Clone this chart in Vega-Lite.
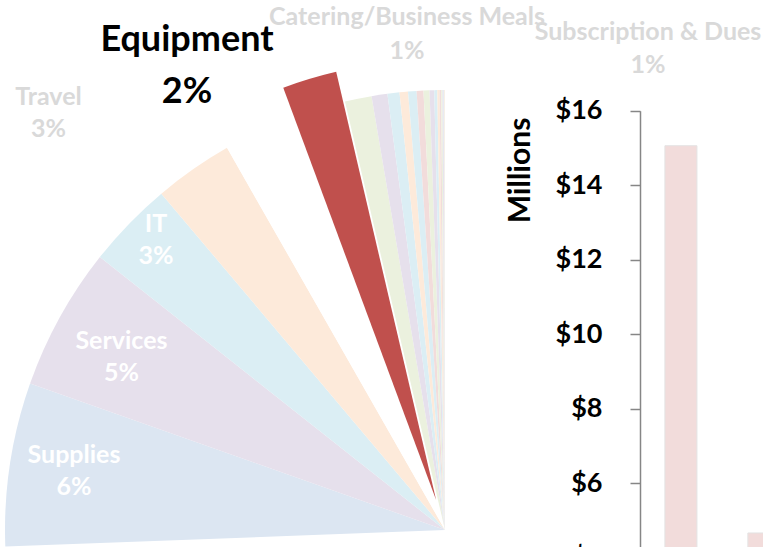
{
  "$schema": "https://vega.github.io/schema/vega-lite/v6.json",
  "width": 763,
  "height": 547,
  "padding": 0,
  "autosize": {"type": "none"},
  "background": "white",
  "config": {"view": {"stroke": null}},
  "datasets": {
    "pie": [
      {"rank": 1, "cat": "Largest category", "pct": 74.4, "label": ""},
      {"rank": 2, "cat": "Supplies", "pct": 6.0, "label": "Supplies\n6%"},
      {"rank": 3, "cat": "Services", "pct": 5.25, "label": "Services\n5%"},
      {"rank": 4, "cat": "IT", "pct": 3.2, "label": "IT\n3%"},
      {"rank": 5, "cat": "Travel", "pct": 2.9, "label": "Travel\n3%"},
      {"rank": 6, "cat": "Unlabeled", "pct": 2.6, "label": ""},
      {"rank": 7, "cat": "Equipment", "pct": 2.0, "label": "Equipment\n2%"},
      {"rank": 8, "cat": "Catering/Business Meals", "pct": 0.98, "label": "Catering/Business Meals\n1%"},
      {"rank": 9, "cat": "Subscription & Dues", "pct": 0.58, "label": "Subscription & Dues\n1%"},
      {"rank": 10, "cat": "Small 1", "pct": 0.44, "label": ""},
      {"rank": 11, "cat": "Small 2", "pct": 0.31, "label": ""},
      {"rank": 12, "cat": "Small 3", "pct": 0.31, "label": ""},
      {"rank": 13, "cat": "Small 4", "pct": 0.25, "label": ""},
      {"rank": 14, "cat": "Small 5", "pct": 0.22, "label": ""},
      {"rank": 15, "cat": "Small 6", "pct": 0.17, "label": ""},
      {"rank": 16, "cat": "Small 7", "pct": 0.11, "label": ""},
      {"rank": 17, "cat": "Small 8", "pct": 0.08, "label": ""},
      {"rank": 18, "cat": "Small 9", "pct": 0.06, "label": ""},
      {"rank": 19, "cat": "Small 10", "pct": 0.05, "label": ""},
      {"rank": 20, "cat": "Small 11", "pct": 0.04, "label": ""},
      {"rank": 21, "cat": "Small 12", "pct": 0.03, "label": ""},
      {"rank": 22, "cat": "Small 13", "pct": 0.02, "label": ""}
    ],
    "bars": [
      {"item": "Item 1", "millions": 15.06},
      {"item": "Item 2", "millions": 4.67}
    ]
  },
  "layer": [
    {
      "data": {"name": "pie"},
      "mark": {"type": "arc", "x": 445, "y": 530, "radius": 440},
      "encoding": {
        "theta": {"field": "pct", "type": "quantitative", "stack": true, "scale": {"domain": [0, 100]}},
        "order": {"field": "rank", "type": "quantitative"},
        "color": {
          "field": "cat", "type": "nominal", "legend": null,
          "scale": {
            "domain": ["Largest category", "Supplies", "Services", "IT", "Travel", "Unlabeled", "Equipment", "Catering/Business Meals", "Subscription & Dues", "Small 1", "Small 2", "Small 3", "Small 4", "Small 5", "Small 6", "Small 7", "Small 8", "Small 9", "Small 10", "Small 11", "Small 12", "Small 13"],
            "range": ["#FFFFFF", "#DCE6F2", "#E6E0EC", "#DBEEF4", "#FDEADA", "#FFFFFF", "#C0504D", "#EBF1DE", "#E6E0EC", "#DBEEF4", "#FDEADA", "#DBEEF4", "#F2DCDB", "#EBF1DE", "#E6E0EC", "#DBEEF4", "#FDEADA", "#F2DCDB", "#EBF1DE", "#E6E0EC", "#DBEEF4", "#FDEADA"]
          }
        },
        "opacity": {"condition": {"test": "datum.cat === 'Equipment' || datum.cat === 'Largest category'", "value": 0}, "value": 1}
      }
    },
    {
      "data": {"name": "pie"},
      "mark": {"type": "arc", "x": 436.2, "y": 500.3, "radius": 440},
      "encoding": {
        "theta": {"field": "pct", "type": "quantitative", "stack": true},
        "order": {"field": "rank", "type": "quantitative"},
        "color": {"field": "cat", "type": "nominal", "legend": null},
        "opacity": {"condition": {"test": "datum.cat === 'Equipment'", "value": 1}, "value": 0}
      }
    },
    {
      "data": {"name": "pie"},
      "mark": {"type": "text", "x": 445, "y": 530, "radius": 378.5, "thetaOffset": 0.0487, "font": "Lato", "fontWeight": "bold", "fontSize": 25, "color": "#FFFFFF", "lineBreak": "\n", "lineHeight": 32, "align": "center", "baseline": "middle"},
      "encoding": {
        "theta": {"field": "pct", "type": "quantitative", "stack": true},
        "order": {"field": "rank", "type": "quantitative"},
        "text": {"condition": {"test": "datum.cat === 'Supplies'", "field": "label"}, "value": ""}
      }
    },
    {
      "data": {"name": "pie"},
      "mark": {"type": "text", "x": 445, "y": 530, "radius": 374.7, "thetaOffset": 0.0244, "font": "Lato", "fontWeight": "bold", "fontSize": 25, "color": "#FFFFFF", "lineBreak": "\n", "lineHeight": 32, "align": "center", "baseline": "middle"},
      "encoding": {
        "theta": {"field": "pct", "type": "quantitative", "stack": true},
        "order": {"field": "rank", "type": "quantitative"},
        "text": {"condition": {"test": "datum.cat === 'Services'", "field": "label"}, "value": ""}
      }
    },
    {
      "data": {"name": "pie"},
      "mark": {"type": "text", "x": 445, "y": 530, "radius": 420.9, "thetaOffset": 0.0443, "font": "Lato", "fontWeight": "bold", "fontSize": 25, "color": "#FFFFFF", "lineBreak": "\n", "lineHeight": 32, "align": "center", "baseline": "middle"},
      "encoding": {
        "theta": {"field": "pct", "type": "quantitative", "stack": true},
        "order": {"field": "rank", "type": "quantitative"},
        "text": {"condition": {"test": "datum.cat === 'IT'", "field": "label"}, "value": ""}
      }
    },
    {
      "data": {"name": "pie"},
      "mark": {"type": "text", "x": 445, "y": 530, "radius": 587.1, "thetaOffset": -0.1319, "font": "Lato", "fontWeight": "bold", "fontSize": 25, "color": "#D9D9D9", "lineBreak": "\n", "lineHeight": 32, "align": "center", "baseline": "middle"},
      "encoding": {
        "theta": {"field": "pct", "type": "quantitative", "stack": true},
        "order": {"field": "rank", "type": "quantitative"},
        "text": {"condition": {"test": "datum.cat === 'Travel'", "field": "label"}, "value": ""}
      }
    },
    {
      "data": {"name": "pie"},
      "mark": {"type": "text", "x": 445, "y": 530, "radius": 553.8, "thetaOffset": -0.1925, "font": "Lato", "fontWeight": "bold", "fontSize": 36, "color": "#000000", "lineBreak": "\n", "lineHeight": 52, "align": "center", "baseline": "middle"},
      "encoding": {
        "theta": {"field": "pct", "type": "quantitative", "stack": true},
        "order": {"field": "rank", "type": "quantitative"},
        "text": {"condition": {"test": "datum.cat === 'Equipment'", "field": "label"}, "value": ""}
      }
    },
    {
      "data": {"name": "pie"},
      "mark": {"type": "text", "x": 445, "y": 530, "radius": 514.4, "thetaOffset": 0.1246, "font": "Lato", "fontWeight": "bold", "fontSize": 25, "color": "#D9D9D9", "lineBreak": "\n", "lineHeight": 34, "align": "center", "baseline": "middle"},
      "encoding": {
        "theta": {"field": "pct", "type": "quantitative", "stack": true},
        "order": {"field": "rank", "type": "quantitative"},
        "text": {"condition": {"test": "datum.cat === 'Catering/Business Meals'", "field": "label"}, "value": ""}
      }
    },
    {
      "data": {"name": "pie"},
      "mark": {"type": "text", "x": 445, "y": 530, "radius": 537.8, "thetaOffset": 0.5367, "font": "Lato", "fontWeight": "bold", "fontSize": 25, "color": "#D9D9D9", "lineBreak": "\n", "lineHeight": 33, "align": "center", "baseline": "middle"},
      "encoding": {
        "theta": {"field": "pct", "type": "quantitative", "stack": true},
        "order": {"field": "rank", "type": "quantitative"},
        "text": {"condition": {"test": "datum.cat === 'Subscription & Dues'", "field": "label"}, "value": ""}
      }
    },
    {
      "data": {"name": "bars"},
      "mark": {"type": "bar", "fill": "#F2DCDB", "stroke": "#E3E3E3", "strokeWidth": 1},
      "encoding": {
        "x": {
          "field": "item", "type": "nominal", "sort": null, "axis": null,
          "scale": {"domain": ["Item 1", "Item 2"], "range": [640, 804.8], "paddingInner": 0.614, "paddingOuter": 0.3}
        },
        "y": {
          "field": "millions", "type": "quantitative",
          "scale": {"domain": [0, 16], "range": [707, 110.7], "nice": false},
          "axis": {
            "title": "Millions", "orient": "left", "offset": -640, "zindex": 1,
            "values": [0, 2, 4, 6, 8, 10, 12, 14, 16], "format": "$.0f", "grid": false,
            "labelFont": "Lato", "labelFontWeight": "bold", "labelFontSize": 27, "labelColor": "#000000", "labelPadding": 28,
            "labelFlush": false, "labelOverlap": false,
            "tickSize": 10, "tickColor": "#868686", "tickWidth": 1.5, "domainColor": "#868686", "domainWidth": 1.5,
            "titleFont": "Lato", "titleFontSize": 30, "titleFontWeight": "bold", "titleColor": "#000000",
            "titleX": -120, "titleY": 170, "titleAngle": -90, "titleAlign": "center", "titleBaseline": "middle"
          }
        }
      }
    }
  ]
}
